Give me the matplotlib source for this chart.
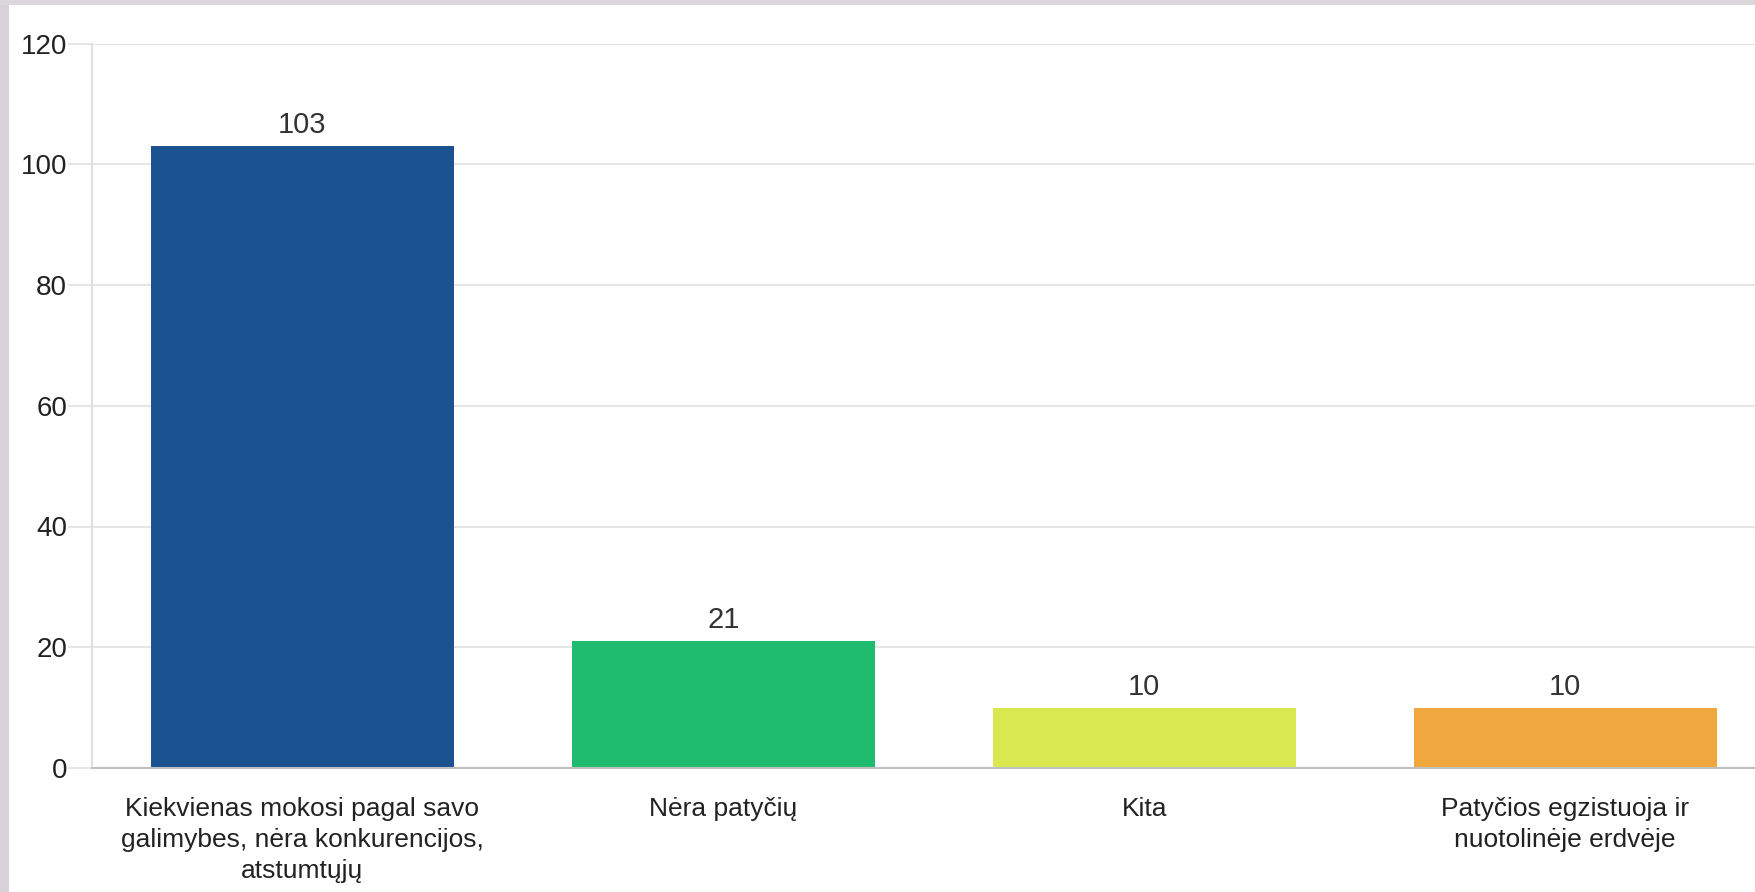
import matplotlib.pyplot as plt
from matplotlib.patches import Rectangle

plt.rcParams['font.family'] = ['Liberation Sans', 'DejaVu Sans']

categories = [
    "Kiekvienas mokosi pagal savo\ngalimybes, nėra konkurencijos,\natstumtųjų",
    "Nėra patyčių",
    "Kita",
    "Patyčios egzistuoja ir\nnuotolinėje erdvėje",
]
values = [103, 21, 10, 10]
colors = ["#1b5391", "#1fbb6f", "#d9e84f", "#f0a73e"]
yticks = [0, 20, 40, 60, 80, 100, 120]

fig = plt.figure(figsize=(17.55, 8.92), dpi=100)
fig.patch.set_facecolor("white")
# grey window frame on the left and top
fig.patches.append(Rectangle((0, 0), 9 / 1755, 1, transform=fig.transFigure,
                             facecolor="#d8d3d9", edgecolor="none", zorder=0))
fig.patches.append(Rectangle((0, 1 - 5 / 892), 1, 5 / 892, transform=fig.transFigure,
                             facecolor="#dcd7dd", edgecolor="none", zorder=0))

ax = fig.add_axes([92 / 1755, 1 - 768 / 892, 1 - 92 / 1755, (768 - 43.5) / 892])
x = range(len(values))
ax.bar(x, values, width=0.72, color=colors, zorder=3)

for xi, v in zip(x, values):
    ax.annotate(str(v), (xi, v), xytext=(0, 5), textcoords="offset points",
                ha="center", va="bottom", fontsize=21, color="#333333")

ax.set_xlim(-0.5, 3.451)
ax.set_ylim(0, 120)
ax.set_yticks(yticks)
ax.set_yticklabels([str(t) for t in yticks], fontsize=20, color="#222222")
ax.set_xticks(list(x))
ax.set_xticklabels(categories, fontsize=19, color="#222222", linespacing=1.37)

ax.yaxis.grid(True, color="#e6e6e6", linewidth=1.5, zorder=0)
ax.tick_params(axis="y", length=17, width=1.5, color="#e6e6e6", pad=1)
ax.tick_params(axis="x", length=0, pad=21)

for s in ["top", "right"]:
    ax.spines[s].set_visible(False)
ax.spines["left"].set_color("#e0e0e0")
ax.spines["left"].set_linewidth(1.5)
ax.spines["bottom"].set_color("#c0c0c0")
ax.spines["bottom"].set_linewidth(1.5)
ax.spines["bottom"].set_zorder(4)

fig.savefig("out.png", dpi=100)
